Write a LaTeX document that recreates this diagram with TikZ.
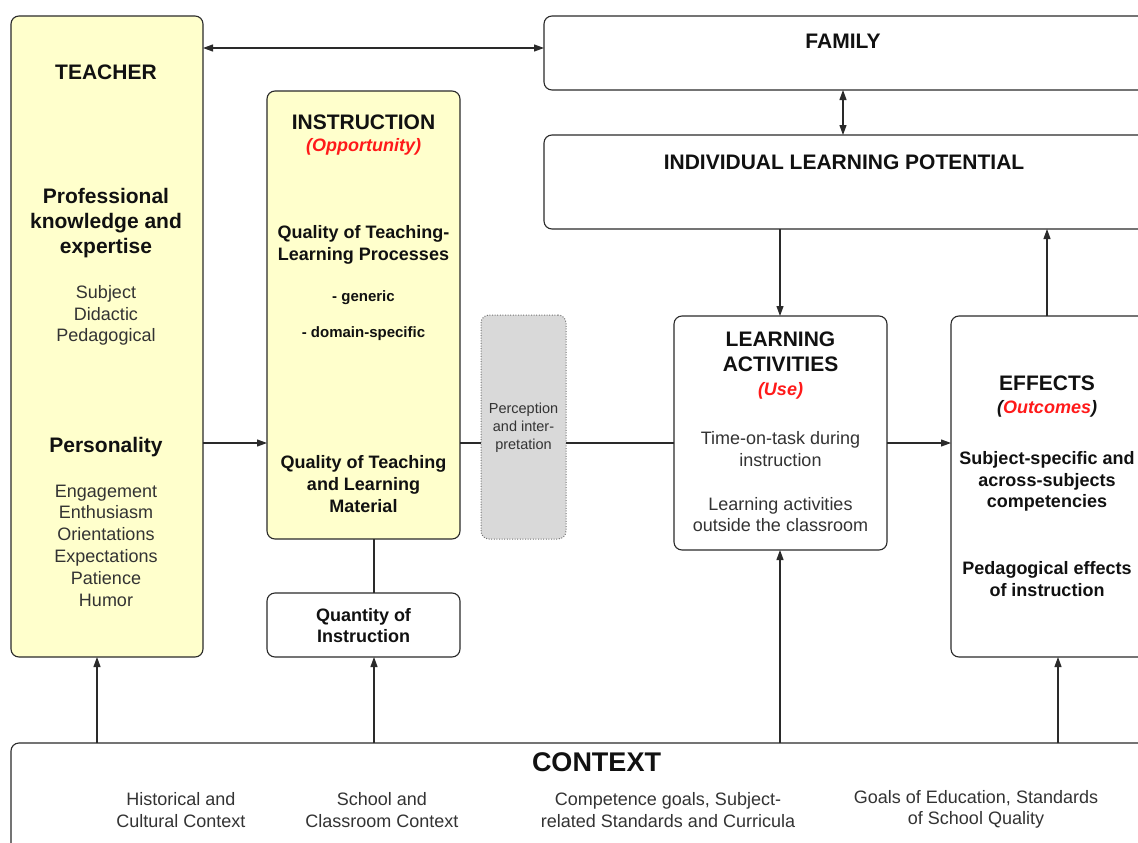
\documentclass[tikz,border=0pt]{standalone}
\usepackage{fontspec}
\setmainfont{Liberation Sans}
\usetikzlibrary{arrows.meta}
\definecolor{ylw}{HTML}{FFFFCC}
\definecolor{linec}{HTML}{2A2A2A}
\definecolor{txt}{HTML}{333333}
\definecolor{hd}{HTML}{111111}
\definecolor{rd}{HTML}{FF1A1A}
\definecolor{gry}{HTML}{D9D9D9}
\newcommand\fsz[2]{\fontsize{#1}{#2}\selectfont}
\begin{document}
\begin{tikzpicture}[x=1pt,y=-1pt,
  box/.style={draw=linec, line width=1.1pt, rounded corners=8pt, inner sep=0pt, outer sep=0pt, fill=white},
  ybox/.style={box, fill=ylw},
  lbl/.style={align=center, text=txt, inner sep=0pt},
  hdr/.style={align=center, text=hd, inner sep=0pt, yshift=-2pt, font=\bfseries},
  caps/.style={align=center, text=hd, inner sep=0pt, font=\fsz{21}{25}\bfseries},
  red/.style={align=center, text=rd, inner sep=0pt, yshift=-2pt, font=\fsz{18}{21}\bfseries\itshape},
  conn/.style={draw=linec, line width=1.1pt},
  arr/.style={conn, -{Triangle[length=10pt,width=7pt]}},
  darr/.style={conn, {Triangle[length=10pt,width=7pt]}-{Triangle[length=10pt,width=7pt]}}
]
\useasboundingbox (0,0) rectangle (1138,843);
% boxes
\node[ybox, minimum width=192pt, minimum height=641pt] (teacher) at (107,336.5) {};
\node[ybox, minimum width=193pt, minimum height=448pt] (instr) at (363.5,315) {};
\node[box, fill=gry, draw=gray!90!black, line width=1pt, dash pattern=on 1pt off 1.6pt, minimum width=85pt, minimum height=224pt] (perc) at (523.5,427) {};
\node[box, minimum width=193pt, minimum height=64pt] (quant) at (363.5,625) {};
\node[box, minimum width=606pt, minimum height=74pt] (family) at (847,53) {};
\node[box, minimum width=606pt, minimum height=94pt] (ilp) at (847,182) {};
\node[box, minimum width=213pt, minimum height=234pt] (la) at (780.5,433) {};
\node[box, minimum width=199pt, minimum height=341pt] (eff) at (1050.5,486.5) {};
\node[box, minimum width=1139pt, minimum height=117pt] (ctx) at (580.5,801.5) {};
% connector coordinates
\coordinate (ya) at (0,48);
\coordinate (ym) at (0,443);
\coordinate (xa) at (843,0);
\coordinate (xb) at (780,0);
\coordinate (xc) at (1047,0);
\coordinate (xt) at (97,0);
\coordinate (xq) at (374,0);
\coordinate (xe) at (1058,0);
% connectors
\draw[darr] (teacher.east |- ya) -- (family.west |- ya);
\draw[darr] (family.south -| xa) -- (ilp.north -| xa);
\draw[arr] (ilp.south -| xb) -- (la.north -| xb);
\draw[arr] (eff.north -| xc) -- (ilp.south -| xc);
\draw[arr] (teacher.east |- ym) -- (instr.west |- ym);
\draw[conn] (instr.east |- ym) -- (perc.west |- ym);
\draw[conn] (perc.east |- ym) -- (la.west |- ym);
\draw[arr] (la.east |- ym) -- (eff.west |- ym);
\draw[conn] (instr.south -| xq) -- (quant.north -| xq);
\draw[arr] (ctx.north -| xt) -- (teacher.south -| xt);
\draw[arr] (ctx.north -| xq) -- (quant.south -| xq);
\draw[arr] (ctx.north -| xb) -- (la.south -| xb);
\draw[arr] (ctx.north -| xe) -- (eff.south -| xe);
% teacher texts
\node[caps] (tT) at (106,72) {TEACHER};
\node[hdr, font=\fsz{21}{25}\bfseries] (tP) at (106,221) {Professional\\knowledge and\\expertise};
\node[lbl, font=\fsz{18}{21.6}, yshift=-2pt] (tS) at (106,313.5) {Subject\\Didactic\\Pedagogical};
\node[hdr, font=\fsz{21}{25}\bfseries] (tPe) at (106,445) {Personality};
\node[lbl, font=\fsz{18}{21.8}] (tE) at (106,545.5) {Engagement\\Enthusiasm\\Orientations\\Expectations\\Patience\\Humor};
% instruction texts
\node[caps] (iT) at (363.5,122) {INSTRUCTION};
\node[red] (iO) at (363.5,145) {(Opportunity)};
\node[hdr, font=\fsz{18}{22}\bfseries] (iQ) at (363.5,243) {Quality of Teaching-\\Learning Processes};
\node[hdr, font=\fsz{15}{18}\bfseries] (iG) at (363.5,296) {- generic};
\node[hdr, font=\fsz{15}{18}\bfseries] (iD) at (363.5,332) {- domain-specific};
\node[hdr, font=\fsz{18}{22}\bfseries] (iM) at (363.5,482) {Quality of Teaching\\and Learning\\Material};
% perception
\node[lbl, font=\fsz{14.5}{18}, yshift=-1pt] (pT) at (523.5,427) {Perception\\and inter-\\pretation};
% quantity
\node[hdr, font=\fsz{18}{21}\bfseries] (qT) at (363.5,623.5) {Quantity of\\Instruction};
% family, ilp
\node[caps] (fT) at (843,41) {FAMILY};
\node[caps] (lT) at (844,162) {INDIVIDUAL LEARNING POTENTIAL};
% learning activities
\node[caps] (aT) at (780.5,351.5) {LEARNING\\ACTIVITIES};
\node[red] (aU) at (780.5,389) {(Use)};
\node[lbl, font=\fsz{18}{22}] (aA) at (780.5,449) {Time-on-task during\\instruction};
\node[lbl, font=\fsz{18}{21.5}] (aB) at (780.5,514.5) {Learning activities\\outside the classroom};
% effects
\node[caps] (eT) at (1047,383) {EFFECTS};
\node[red] (eO) at (1047,407) {\textcolor{hd}{(}Outcomes\textcolor{hd}{)}};
\node[hdr, font=\fsz{18}{21.5}\bfseries] (eS) at (1047,479.5) {Subject-specific and\\across-subjects\\competencies};
\node[hdr, font=\fsz{18}{22}\bfseries] (eP) at (1047,577) {Pedagogical effects\\of instruction};
% context
\node[caps, font=\fsz{27}{30}\bfseries] (cT) at (596.5,762) {CONTEXT};
\node[lbl, font=\fsz{18}{22}] (c1) at (181,810) {Historical and\\Cultural Context};
\node[lbl, font=\fsz{18}{22}] (c2) at (382,810) {School and\\Classroom Context};
\node[lbl, font=\fsz{18}{22}] (c3) at (668,810) {Competence goals, Subject-\\related Standards and Curricula};
\node[lbl, font=\fsz{18}{21}, yshift=-2pt] (c4) at (976,807.5) {Goals of Education, Standards\\of School Quality};
\end{tikzpicture}
\end{document}
